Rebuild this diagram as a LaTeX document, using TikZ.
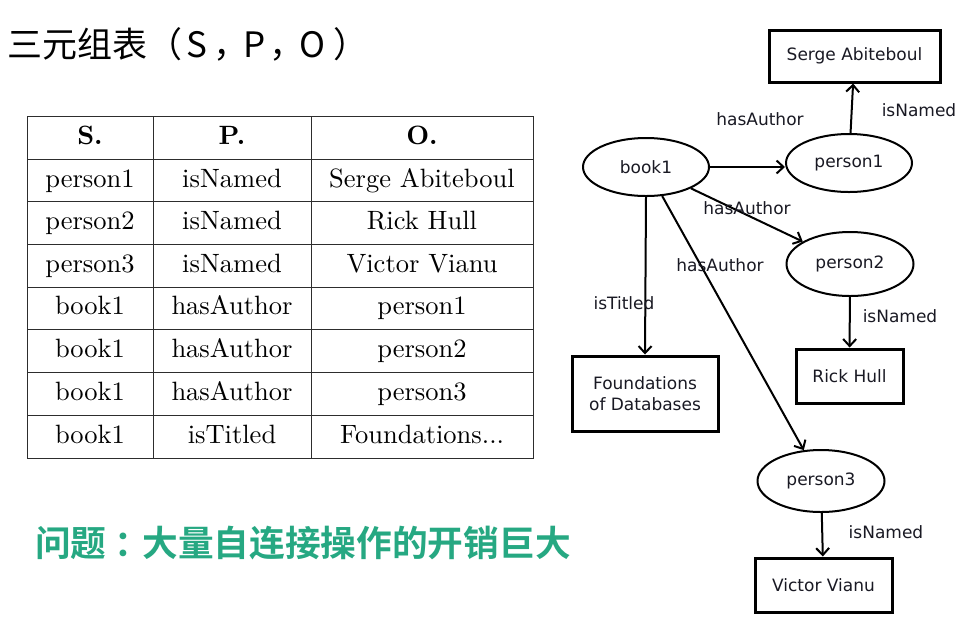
\documentclass[tikz,border=0pt]{standalone}
\usepackage{fontspec}
\usetikzlibrary{shapes.geometric,arrows.meta}
\newfontfamily\cjk{Noto Sans CJK SC}[BoldFont={Noto Sans CJK SC Bold}]
\newfontfamily\dejavu{DejaVu Sans}
\newfontfamily\lmten{lmroman10-regular.otf}[BoldFont=lmroman10-bold.otf]
\definecolor{probgreen}{RGB}{38,168,130}
\definecolor{ink}{RGB}{25,25,35}
\definecolor{gridc}{RGB}{45,45,45}
\tikzset{
  cell/.style={font=\lmten\fontsize{26.5}{30}\selectfont, text height=18pt, text depth=5pt, inner sep=0pt, anchor=center},
  hcell/.style={cell, font=\lmten\fontsize{26.5}{30}\selectfont\bfseries},
  gl/.style={font=\dejavu\fontsize{17}{20}\selectfont, text=ink, inner sep=0pt},
  res/.style={ellipse, draw, line width=2pt, inner sep=0pt, font=\dejavu\fontsize{17}{20}\selectfont, text=ink},
  lit/.style={rectangle, draw, line width=3pt, inner sep=0pt, align=center, font=\dejavu\fontsize{17}{21}\selectfont, text=ink},
  elabel/.style={gl},
  edge/.style={line width=2pt, -{Straight Barb[length=7pt,width=13pt,line width=2pt]}},
}
\begin{document}
\begin{tikzpicture}[x=1pt,y=-1pt]
\useasboundingbox (0,0) rectangle (958,625);
% title
\node[anchor=west, inner sep=0pt, font=\cjk\fontsize{35}{40}\selectfont] (title) at (7,44) {三元组表（\hspace{4pt}S\hspace{6pt}，\hspace{-5pt}P\hspace{4pt}，\hspace{-5pt}O\hspace{8pt}）};
% table grid
\draw[gridc, line width=1pt] (27,116) rectangle (533,458);
\foreach \yy in {159,201,244,287,329,372,415} \draw[gridc, line width=1pt] (27,\yy) -- (533,\yy);
\draw[gridc, line width=1pt] (153,116) -- (153,458);
\draw[gridc, line width=1pt] (311,116) -- (311,458);
% table header
\node[hcell] (hS) at (90,138) {S.};
\node[hcell] (hP) at (232,138) {P.};
\node[hcell] (hO) at (422,138) {O.};
% rows
\node[cell] (s1) at (90,180.5) {person1};
\node[cell] (p1) at (232,180.5) {isNamed};
\node[cell] (o1) at (422,180.5) {Serge Abiteboul};
\node[cell] (s2) at (90,223) {person2};
\node[cell] (p2) at (232,223) {isNamed};
\node[cell] (o2) at (422,223) {Rick Hull};
\node[cell] (s3) at (90,265.5) {person3};
\node[cell] (p3) at (232,265.5) {isNamed};
\node[cell] (o3) at (422,265.5) {Victor Vianu};
\node[cell] (s4) at (90,308) {book1};
\node[cell] (p4) at (232,308) {hasAuthor};
\node[cell] (o4) at (422,308) {person1};
\node[cell] (s5) at (90,350.5) {book1};
\node[cell] (p5) at (232,350.5) {hasAuthor};
\node[cell] (o5) at (422,350.5) {person2};
\node[cell] (s6) at (90,393.5) {book1};
\node[cell] (p6) at (232,393.5) {hasAuthor};
\node[cell] (o6) at (422,393.5) {person3};
\node[cell] (s7) at (90,436.5) {book1};
\node[cell] (p7) at (232,436.5) {isTitled};
\node[cell] (o7) at (422,436.5) {Foundations...};
% problem statement
\node[anchor=west, inner sep=0pt, text=probgreen, font=\cjk\bfseries\fontsize{35.7}{40}\selectfont] (problem) at (35,543) {问题\hspace{8pt}：\hspace{-8pt}大量自连接操作的开销巨大};
% graph nodes
\node[res, minimum width=126pt, minimum height=58pt] (book1) at (646,167) {book1};
\node[res, minimum width=126pt, minimum height=58pt] (person1) at (849,163) {person1};
\node[res, minimum width=127pt, minimum height=64pt] (person2) at (850,264) {person2};
\node[res, minimum width=127pt, minimum height=62pt] (person3) at (821,481) {person3};
\node[lit, minimum width=171pt, minimum height=52pt] (serge) at (854.5,56) {Serge Abiteboul};
\node[lit, minimum width=146pt, minimum height=75pt] (found) at (645,393.5) {Foundations\\of Databases};
\node[lit, minimum width=107pt, minimum height=54pt] (rick) at (849.5,376) {Rick Hull};
\node[lit, minimum width=137pt, minimum height=54pt] (victor) at (823.5,585) {Victor Vianu};
% edges
\draw[edge] (book1.east) -- (book1.east -| person1.west);
\draw[edge] (person1) -- (serge);
\draw[edge] (book1) -- (person2);
\draw[edge] (book1) -- (person3);
\draw[edge] (book1.south) -- (found.north);
\draw[edge] (person2) -- (rick);
\draw[edge] (person3) -- (victor);
% edge labels
\node[elabel] (l1) at (760,119) {hasAuthor};
\node[elabel] (l2) at (919,110) {isNamed};
\node[elabel] (l3) at (747,208) {hasAuthor};
\node[elabel] (l4) at (720,265) {hasAuthor};
\node[elabel] (l5) at (624,303) {isTitled};
\node[elabel] (l6) at (900,316) {isNamed};
\node[elabel] (l7) at (886,532) {isNamed};
\end{tikzpicture}
\end{document}
